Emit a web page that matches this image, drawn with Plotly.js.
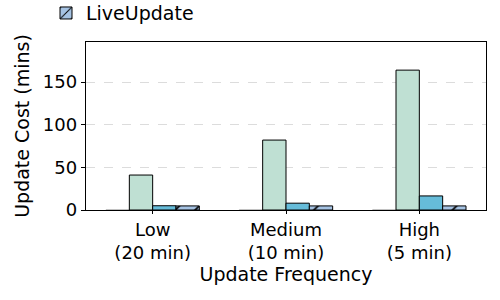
<!DOCTYPE html>
<html>
<head>
<meta charset="utf-8">
<script src="https://cdn.plot.ly/plotly-3.0.1.min.js"></script>
<style>html,body{margin:0;padding:0;background:#fff;}#chart{width:500px;height:300px;}</style>
</head>
<body>
<div id="chart"></div>
<script>
const categories = ["Low<br>(20 min)", "Medium<br>(10 min)", "High<br>(5 min)"];
const seriesNames = ["Baseline", "FullRetrain", "Incremental", "LiveUpdate"];
const baselineVals = [0.3, 0.3, 0.3];
const fullRetrainVals = [41, 82, 164];
const incrementalVals = [5, 8, 16.5];
const liveUpdateVals = [4.8, 4.8, 4.8];
const yTicks = [0, 50, 100, 150];

const colors = ["#d9d9d9", "#bfe0d3", "#66bcd9", "#a6c3e3"];
const allVals = [baselineVals, fullRetrainVals, incrementalVals, liveUpdateVals];

const traces = allVals.map((vals, i) => ({
  type: "bar",
  name: seriesNames[i],
  x: categories,
  y: vals,
  showlegend: i === 3,
  marker: {
    color: colors[i],
    line: {color: i === 0 ? "#bbbbbb" : "#000", width: 1},
    pattern: i === 3 ? {shape: "/", size: 14, solidity: 0.12, fgcolor: "#000", bgcolor: colors[i], fillmode: "replace"} : {shape: ""}
  }
}));

const layout = {
  width: 500, height: 300,
  margin: {l: 86, r: 14, t: 42, b: 90, autoexpand: false},
  paper_bgcolor: "#fff", plot_bgcolor: "#fff",
  barmode: "group", bargap: 0.3, bargroupgap: 0,
  font: {family: "DejaVu Sans", size: 18, color: "#000"},
  showlegend: true,
  legend: {x: -0.1, y: 1.285, xanchor: "left", yanchor: "top",
           font: {size: 19}, bgcolor: "rgba(0,0,0,0)", itemwidth: 30},
  xaxis: {
    type: "category", range: [-0.5, 2.5], automargin: false,
    showline: true, linecolor: "#000", linewidth: 1.2, mirror: true,
    ticks: "outside", ticklen: 3, tickcolor: "#000",
    tickfont: {size: 18},
    title: {text: "Update Frequency", font: {size: 19}, standoff: 3},
    showgrid: false
  },
  yaxis: {
    range: [0, 197], tickvals: yTicks, ticktext: yTicks.map(String), automargin: false,
    showline: true, linecolor: "#000", linewidth: 1.2, mirror: true,
    ticks: "outside", ticklen: 4, tickcolor: "#000",
    tickfont: {size: 18},
    showgrid: true, gridcolor: "#dcdcdc", griddash: "dash", gridwidth: 1,
    zeroline: false,
    title: {text: "Update Cost (mins)", font: {size: 19}, standoff: 8}
  }
};

Plotly.newPlot("chart", traces, layout, {displayModeBar: false, staticPlot: true});
</script>
</body>
</html>
